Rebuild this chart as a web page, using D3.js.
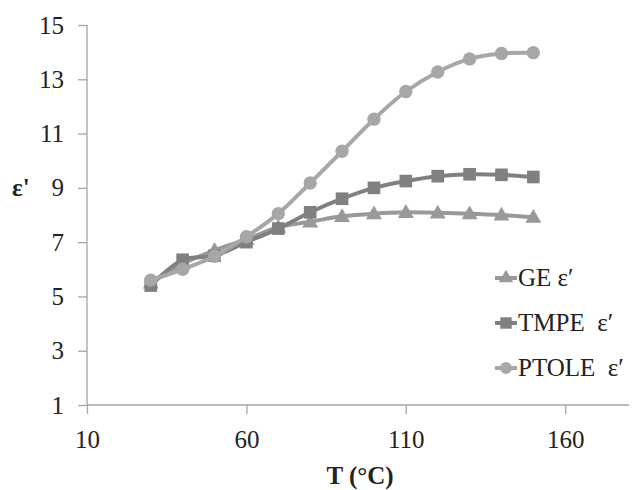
<!DOCTYPE html>
<html>
<head>
<meta charset="utf-8">
<script src="https://cdn.jsdelivr.net/npm/d3@7"></script>
<style>
	body { margin: 0; background: #fff; }
	svg text { font-family: "Liberation Serif", "Times New Roman", Times, "DejaVu Serif Condensed", serif; fill: #222; }
</style>
</head>
<body>
<div id="graph"></div>
<script>
// temperatures (°C)
var temps = [30, 40, 50, 60, 70, 80, 90, 100, 110, 120, 130, 140, 150];
// dielectric constant per sample
var geVals    = [5.5, 6.2, 6.7, 7.1, 7.55, 7.75, 7.95, 8.05, 8.1, 8.08, 8.05, 8.0, 7.92];
var tmpeVals  = [5.4, 6.35, 6.5, 7.0, 7.5, 8.1, 8.6, 9.0, 9.25, 9.43, 9.5, 9.48, 9.4];
var ptoleVals = [5.6, 6.0, 6.48, 7.2, 8.05, 9.18, 10.35, 11.53, 12.55, 13.27, 13.75, 13.95, 13.98];
var xTicks = [10, 60, 110, 160];
var yTicks = [1, 3, 5, 7, 9, 11, 13, 15];

var series = [
	{ name: "GE", label: "GE ε′", vals: geVals, color: "#999999", shape: d3.symbolTriangle },
	{ name: "TMPE", label: "TMPE  ε′", vals: tmpeVals, color: "#808080", shape: d3.symbolSquare },
	{ name: "PTOLE", label: "PTOLE  ε′", vals: ptoleVals, color: "#a7a7a9", shape: d3.symbolCircle }
];

var width = 632, height = 490;
var svg = d3.select("#graph").append("svg")
	.attr("width", width)
	.attr("height", height);

var x = d3.scaleLinear().domain([10, 180]).range([87, 629]);
var y = d3.scaleLinear().domain([1, 15]).range([405, 25]);

// axes
var xAxis = svg.append("g")
	.attr("transform", "translate(0," + y(1) + ")")
	.call(d3.axisBottom(x).tickValues(xTicks).tickSize(9).tickPadding(16).tickFormat(d3.format("d")));
var yAxis = svg.append("g")
	.attr("transform", "translate(" + x(10) + ",0)")
	.call(d3.axisLeft(y).tickValues(yTicks).tickSize(9).tickPadding(14).tickFormat(d3.format("d")));
[xAxis, yAxis].forEach(function (a) {
	a.select(".domain").attr("stroke", "#a6a6a6").attr("stroke-width", 1.3);
	a.selectAll(".tick line").attr("stroke", "#a6a6a6").attr("stroke-width", 1.3);
	a.selectAll(".tick text")
		.attr("font-size", "25px")
		.attr("fill", "#222");
});
xAxis.select(".domain").attr("d", "M" + x(10) + ",0H" + x(180));
yAxis.select(".domain").attr("d", "M0," + y(1) + "V" + y(15));

// lines
var line = d3.line()
	.x(function (d) { return x(d[0]); })
	.y(function (d) { return y(d[1]); })
	.curve(d3.curveCatmullRom.alpha(0.5));

// draw in order so that PTOLE sits on top
series.forEach(function (s) {
	var pts = temps.map(function (t, i) { return [t, s.vals[i]]; });
	svg.append("path")
		.attr("d", line(pts))
		.attr("fill", "none")
		.attr("stroke", s.color)
		.attr("stroke-width", 4);
	var sym = d3.symbol().type(s.shape).size(s.shape == d3.symbolCircle ? 140 : (s.shape == d3.symbolSquare ? 160 : 110));
	svg.selectAll(null).data(pts)
		.enter().append("path")
		.attr("d", sym)
		.attr("transform", function (d) {
			var dy = s.shape == d3.symbolTriangle ? 1 : 0;
			return "translate(" + x(d[0]) + "," + (y(d[1]) + dy) + ")";
		})
		.attr("fill", s.color);
});

// legend
var legend = svg.append("g");
series.forEach(function (s, i) {
	var ly = 278 + i * 45;
	legend.append("line")
		.attr("x1", 495).attr("x2", 517)
		.attr("y1", ly).attr("y2", ly)
		.attr("stroke", s.color).attr("stroke-width", 4);
	legend.append("path")
		.attr("d", d3.symbol().type(s.shape).size(s.shape == d3.symbolCircle ? 110 : (s.shape == d3.symbolSquare ? 130 : 90)))
		.attr("transform", "translate(506," + ly + ")")
		.attr("fill", s.color);
	legend.append("text")
		.attr("x", 518)
		.attr("y", ly + 8)
		.attr("font-size", "25px")
		.style("white-space", "pre")
		.text(s.label);
});

// axis titles
svg.append("text")
	.attr("x", 360)
	.attr("y", 484)
	.attr("text-anchor", "middle")
	.attr("font-size", "25px")
	.attr("font-weight", "bold")
	.text("T (°C)");
svg.append("text")
	.attr("x", 12)
	.attr("y", 196)
	.attr("font-size", "25px")
	.attr("font-weight", "bold")
	.text("ε'");
</script>
</body>
</html>
